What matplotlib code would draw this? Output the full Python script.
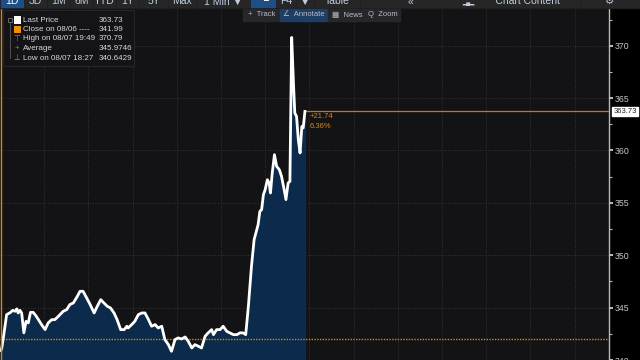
import matplotlib.pyplot as plt
from matplotlib.patches import Rectangle

# intraday price, hours from the open
hours = [0.02, 0.04, 0.07, 0.15, 0.23, 0.29, 0.34, 0.38, 0.41, 0.45, 0.49, 0.54, 0.59,
         0.64, 0.69, 0.75, 0.81, 0.87, 0.94, 1.02, 1.09, 1.17, 1.24, 1.32, 1.43, 1.51,
         1.58, 1.66, 1.75, 1.81, 1.88, 1.96, 2.04, 2.13, 2.20, 2.28, 2.35, 2.43, 2.50,
         2.58, 2.65, 2.73, 2.81, 2.87, 2.90, 2.98, 3.05, 3.13, 3.21, 3.28, 3.36, 3.43,
         3.51, 3.58, 3.66, 3.73, 3.81, 3.88, 3.96, 4.03, 4.11, 4.19, 4.26, 4.34, 4.41,
         4.49, 4.56, 4.64, 4.71, 4.79, 4.83, 4.90, 4.98, 5.05, 5.13, 5.20, 5.28, 5.36,
         5.43, 5.50, 5.56, 5.62, 5.69, 5.75, 5.81, 5.84, 5.88, 5.92, 5.96, 6.00, 6.05,
         6.09, 6.12, 6.16, 6.21, 6.26, 6.32, 6.37, 6.43, 6.47, 6.52, 6.56, 6.60, 6.64,
         6.67, 6.71, 6.75, 6.79, 6.83, 6.86, 6.90]
price = [340.9, 341.15, 341.95, 344.33, 344.52, 344.74, 344.65, 344.88, 344.49, 344.74,
         344.49, 342.59, 343.69, 343.54, 344.55, 344.55, 344.24, 343.85, 343.38, 342.90,
         343.54, 343.85, 343.85, 344.17, 344.65, 344.81, 345.29, 345.45, 346.08, 346.56,
         346.56, 345.93, 345.29, 344.49, 345.12, 345.76, 345.45, 345.12, 344.97, 344.49,
         343.85, 342.90, 342.90, 343.22, 343.06, 343.38, 343.69, 344.33, 344.49, 344.49,
         343.85, 343.22, 343.38, 343.06, 343.22, 341.95, 341.47, 340.83, 341.95, 342.11,
         342.01, 342.20, 341.78, 341.15, 341.47, 341.31, 341.15, 342.26, 342.59, 342.90,
         342.42, 342.90, 342.90, 343.22, 342.74, 342.59, 342.42, 342.42, 342.59, 342.59,
         342.42, 345.12, 348.94, 351.49, 352.44, 352.92, 354.19, 354.35, 355.78, 356.26,
         357.21, 356.90, 355.94, 357.85, 359.60, 358.48, 358.17, 357.53, 356.26, 355.31,
         356.90, 357.05, 370.79, 366.44, 363.58, 363.25, 361.03, 359.76, 362.30, 362.15,
         363.73]

last_price = 363.73
prev_close = 341.99
change_txt = ["+21.74", "6.36%"]
yticks = [340, 345, 350, 355, 360, 365, 370]

legend_rows = [("Last Price", "363.73"),
               ("Close on 08/06 ----", "341.99"),
               ("High on 08/07 19:49", "370.79"),
               ("Average", "345.9746"),
               ("Low on 08/07 18:27", "340.6429")]

top_buttons = ["1D", "3D", "1M", "6M", "YTD", "1Y", "5Y", "Max", "1 Min \u25BC", "",
               "F4", "\u25BC", "Table", "\u00AB", "     Chart Content", "\u2699"]
top_edges = [0, 24, 47, 70, 93, 116, 139, 168, 196, 250, 276, 296, 314, 360, 460, 580, 640]
tools = ["+  Track", "\u2220  Annotate", "\u25A6  News", "Q  Zoom"]
tool_edges = [243, 280, 328, 366, 400]

W, H = 640, 360
plt.rcParams['font.family'] = ['Liberation Sans', 'DejaVu Sans']
fig = plt.figure(figsize=(6.4, 3.6), dpi=100, facecolor='black')


def fx(x):
    return x / W


def fy(y):
    return 1 - y / H


ax = fig.add_axes([0, 0, 609 / W, 352 / H])
ax.set_facecolor('#131316')
ax.set_xlim(0, 13.78)
ax.set_ylim(340.0, 373.6)

ax.set_xticks(range(1, 14))
ax.set_yticks(yticks)
ax.set_yticks([y + 2.5 for y in yticks], minor=True)
ax.grid(True, color='#3c3c40', linestyle=(0, (1, 2)), linewidth=0.6)
ax.tick_params(axis='x', length=0, labelbottom=False)
ax.yaxis.tick_right()
ax.tick_params(axis='y', which='major', colors='#e0e0e0', labelcolor='#c8c8c8',
               length=3, width=1.2, labelsize=6.3, pad=1)
ax.tick_params(axis='y', which='minor', colors='#bbbbbb', length=2, width=0.8)
for s in ['top', 'left', 'bottom']:
    ax.spines[s].set_visible(False)
ax.spines['right'].set_color('#bbbbbb')
ax.spines['right'].set_linewidth(1)

ax.fill_between(hours, price, 340.0, color='#0c2a4c', zorder=2)
ax.plot(hours, price, color='white', lw=2.0, zorder=4, solid_joinstyle='round')

ax.axhline(prev_close, color='#d8870a', lw=1, linestyle=(0, (1, 1)), zorder=3)
ax.axvline(0.03, color='#d8870a', lw=1, zorder=5)
ax.plot([hours[-1], 13.78], [last_price, last_price], color='#c87a08', lw=0.9, zorder=3)
ax.text(hours[-1] + 0.1, last_price - 0.15, change_txt[0], color='#d08a1a',
        fontsize=5.5, va='top', ha='left')
ax.text(hours[-1] + 0.1, last_price - 1.1, change_txt[1], color='#d08a1a',
        fontsize=5.5, va='top', ha='left')
ax.annotate(f"{last_price:.2f}", xy=(1.0, last_price),
            xycoords=('axes fraction', 'data'), xytext=(3, 0),
            textcoords='offset points', va='center', ha='left', fontsize=5.5,
            color='#222222', annotation_clip=False,
            bbox=dict(boxstyle='square,pad=0.15', fc='white', ec='white'))

# top toolbar (cut off by the frame)
fig.patches.append(Rectangle((0, fy(7.5)), 1, 7.5 / H, transform=fig.transFigure,
                             color='#1e1e1e', zorder=0))
for i, lab in enumerate(top_buttons):
    x0, x1 = top_edges[i], top_edges[i + 1]
    fc = '#1d4f86' if i in (0, 9) else '#262626'
    fig.patches.append(Rectangle((fx(x0 + 1), fy(7)), (x1 - x0 - 2) / W, 7 / H,
                                 transform=fig.transFigure, color=fc, zorder=1))
    fig.text(fx((x0 + x1) / 2), fy(6.5), lab, ha='center', va='bottom', fontsize=7.5,
             color='#c0cde0' if i else 'white', zorder=2)
fig.text(fx(263), fy(7), "\u2514", ha='center', va='bottom', fontsize=9,
         color='white', zorder=2)
fig.text(fx(468), fy(6.5), "\u2582\u2584\u2582", ha='center', va='bottom', fontsize=4,
         color='#c0cde0', zorder=2)

# secondary toolbar
for i, lab in enumerate(tools):
    x0, x1 = tool_edges[i], tool_edges[i + 1]
    fc = '#1e3f63' if i == 1 else '#26272a'
    fig.patches.append(Rectangle((fx(x0), fy(21)), (x1 - x0) / W, 12 / H,
                                 transform=fig.transFigure, color=fc, zorder=6))
    fig.text(fx((x0 + x1) / 2), fy(15), lab, ha='center', va='center', fontsize=5.5,
             color='#b8bcc4', zorder=7)

# legend box
fig.patches.append(Rectangle((fx(3), fy(66)), 131 / W, 56 / H, transform=fig.transFigure,
                             fc='#141416', ec='#2a2a2e', lw=0.6, zorder=6))
fig.lines.append(plt.Line2D([fx(10), fx(10)], [fy(22), fy(58)], transform=fig.transFigure,
                            color='#666666', lw=0.5, zorder=7))
icons = ['', '', '\u22A4', '+', '\u22A5']
for i, (lab, val) in enumerate(legend_rows):
    yy = 20 + i * 9.5
    if i < 2:
        fig.patches.append(Rectangle((fx(14), fy(yy + 3.5)), 7 / W, 7 / H,
                                     transform=fig.transFigure,
                                     fc='white' if i == 0 else '#f0900a', zorder=7))
    else:
        fig.text(fx(17), fy(yy), icons[i], ha='center', va='center', fontsize=5.5,
                 color='#8a8a8a', zorder=7)
    fig.text(fx(23), fy(yy), lab, ha='left', va='center', fontsize=5.8,
             color='#d8d8d8', zorder=7)
    fig.text(fx(99), fy(yy), val, ha='left', va='center', fontsize=5.8,
             color='#d8d8d8', zorder=7)
fig.patches.append(Rectangle((fx(8), fy(22)), 4 / W, 4 / H, transform=fig.transFigure,
                             fc='none', ec='#888888', lw=0.5, zorder=7))

fig.savefig('out.png', dpi=100, facecolor='black')
